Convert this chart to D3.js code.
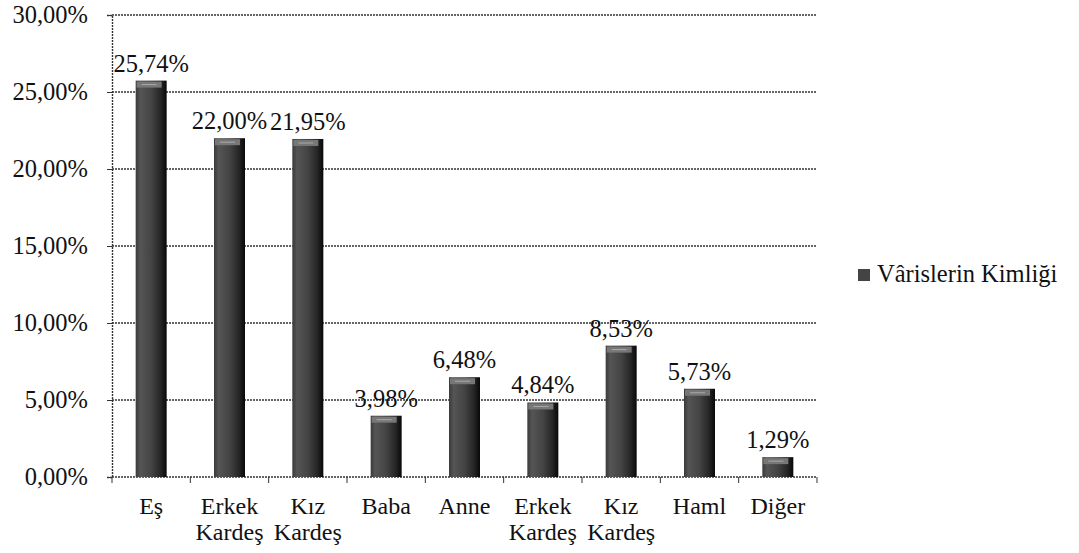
<!DOCTYPE html>
<html><head><meta charset="utf-8">
<script src="https://cdn.jsdelivr.net/npm/d3@7"></script>
<style>body{margin:0;background:#fff}svg{display:block}text{font-family:"Liberation Serif","Times New Roman","DejaVu Serif",serif}</style>
</head><body><svg id="c" width="1079" height="553"></svg>
<script>
const categories = [["Eş"],["Erkek","Kardeş"],["Kız","Kardeş"],["Baba"],["Anne"],["Erkek","Kardeş"],["Kız","Kardeş"],["Haml"],["Diğer"]];
const values = [25.74, 22.00, 21.95, 3.98, 6.48, 4.84, 8.53, 5.73, 1.29];
const yTicks = [0,5,10,15,20,25,30];
const seriesName = "Vârislerin Kimliği";

const svg = d3.select("#c");
const m = {l:112, r:817, t:15, b:477};
const FS = 24.5;
const fmt = v => v.toFixed(2).replace(".", ",") + "%";

const x = d3.scaleBand().domain(d3.range(values.length)).range([m.l, m.r]).paddingInner(0).paddingOuter(0);
const y = d3.scaleLinear().domain([0,30]).range([m.b, m.t]);

const defs = svg.append("defs");
const g = defs.append("linearGradient").attr("id","bar").attr("x1","0").attr("x2","1");
g.append("stop").attr("offset","0").attr("stop-color","#3a3a3a");
g.append("stop").attr("offset","0.15").attr("stop-color","#555");
g.append("stop").attr("offset","0.5").attr("stop-color","#444");
g.append("stop").attr("offset","0.8").attr("stop-color","#262626");
g.append("stop").attr("offset","1").attr("stop-color","#080808");

// gridlines
svg.append("g").selectAll("line").data(yTicks.filter(d=>d>0)).join("line")
  .attr("x1", m.l).attr("x2", m.r).attr("y1", d=>y(d)).attr("y2", d=>y(d))
  .attr("stroke","#333").attr("stroke-width",1.3).attr("stroke-dasharray","2,1");

// y axis
const ya = svg.append("g").attr("transform",`translate(${m.l},0)`)
  .call(d3.axisLeft(y).tickValues(yTicks).tickFormat(fmt).tickSize(5).tickPadding(19));
ya.select(".domain").attr("stroke","#333").attr("stroke-width",1.4).attr("stroke-dasharray","2,1");
ya.selectAll(".tick line").attr("stroke","#333");
ya.selectAll("text").attr("font-family",null).attr("font-size",FS).attr("fill","#111");

// x axis
const xa = svg.append("g").attr("transform",`translate(0,${m.b})`);
xa.append("line").attr("x1",m.l).attr("x2",m.r).attr("stroke","#333").attr("stroke-width",1.4).attr("stroke-dasharray","2,1");
xa.selectAll(".tk").data(d3.range(values.length+1)).join("line")
  .attr("x1", i => i<values.length ? x(i) : m.r).attr("x2", i => i<values.length ? x(i) : m.r)
  .attr("y1",0).attr("y2",6).attr("stroke","#333");
const xl = xa.selectAll(".lbl").data(categories).join("g")
  .attr("transform",(d,i)=>`translate(${x(i)+x.bandwidth()/2},0)`);
xl.selectAll("text").data(d=>d).join("text")
  .attr("x",0).attr("y",(s,j)=>37+j*26)
  .attr("text-anchor","middle").attr("font-size",24).attr("fill","#111")
  .text(s=>s);

// bars
const bw = 31;
const bars = svg.append("g").selectAll("g").data(values).join("g");
bars.append("rect")
  .attr("x",(d,i)=>x(i)+x.bandwidth()/2-bw/2).attr("width",bw)
  .attr("y",d=>y(d)).attr("height",d=>m.b-y(d)).attr("fill","url(#bar)");
bars.append("rect")
  .attr("x",(d,i)=>x(i)+x.bandwidth()/2-bw/2+1).attr("width",bw-6)
  .attr("y",d=>y(d)+1).attr("height",6).attr("fill","#777");
bars.append("line")
  .attr("x1",(d,i)=>x(i)+x.bandwidth()/2-bw/2+6).attr("x2",(d,i)=>x(i)+x.bandwidth()/2+bw/2-10)
  .attr("y1",d=>y(d)+4).attr("y2",d=>y(d)+4).attr("stroke","#aaa").attr("stroke-width",1);

// data labels
svg.append("g").selectAll("text").data(values).join("text")
  .attr("x",(d,i)=>x(i)+x.bandwidth()/2).attr("y",d=>y(d)-9)
  .attr("text-anchor","middle").attr("font-size",FS).attr("fill","#111")
  .text(fmt);

// legend
const lg = svg.append("g").attr("transform","translate(858,269)");
lg.append("rect").attr("width",12).attr("height",12).attr("fill","#444");
lg.append("text").attr("x",19).attr("y",13).attr("font-size",FS).attr("fill","#111").text(seriesName);
</script></body></html>
